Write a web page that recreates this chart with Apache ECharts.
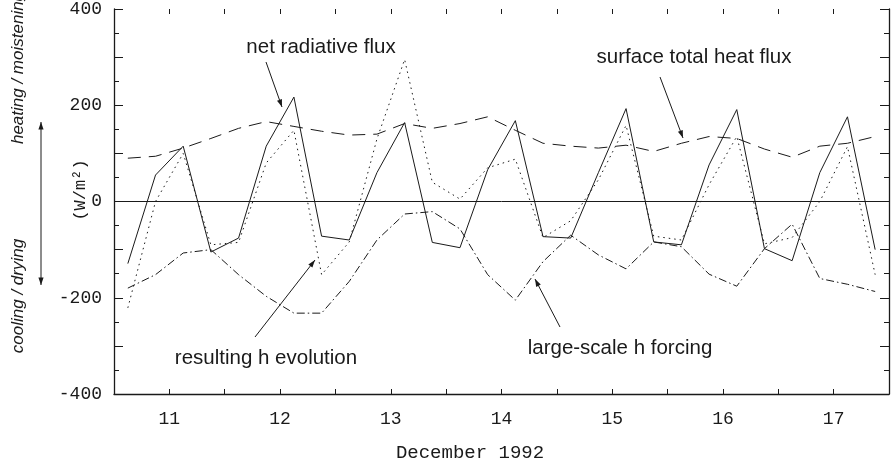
<!DOCTYPE html>
<html><head><meta charset="utf-8">
<script src="https://cdn.jsdelivr.net/npm/echarts@6/dist/echarts.min.js"></script>
<style>html,body{margin:0;padding:0;background:#fff}#c{width:892px;height:467px}</style>
</head><body><div id="c"></div>
<script>
// time (days of December 1992), 6-hourly
const times = [10.625,10.875,11.125,11.375,11.625,11.875,12.125,12.375,12.625,12.875,13.125,13.375,13.625,13.875,14.125,14.375,14.625,14.875,15.125,15.375,15.625,15.875,16.125,16.375,16.625,16.875,17.125,17.375];
const netRadiativeFlux = [-129,55,115,-105,-76,115,217,-72,-80,60,164,-85,-96,66,168,-73,-76,60,193,-84,-90,76,191,-98,-123,60,176,-100];
const resultingHEvolution = [-221,0,100,-90,-85,80,148,-152,-84,130,295,40,5,70,88,-75,-40,45,158,-72,-80,35,135,-88,-75,0,114,-152];
const surfaceTotalHeatFlux = [90,94,111,131,152,166,156,146,138,140,162,152,162,176,148,121,115,111,117,104,121,135,131,109,92,115,121,135];
const largeScaleHForcing = [-180,-152,-107,-100,-152,-197,-232,-232,-166,-80,-26,-21,-57,-152,-205,-125,-70,-111,-140,-84,-94,-151,-176,-98,-47,-160,-172,-187];
const yTickLabels = {"400":"400","200":"200","0":"0","-200":"-200","-400":"-400"};
const xTickLabels = {"11":"11","12":"12","13":"13","14":"14","15":"15","16":"16","17":"17"};

const pair = (ys) => times.map((t,i)=>[t, ys[i]]);
const ink = '#1a1a1a';
const mono = 'Liberation Mono';
const sans = 'Liberation Sans';

const chart = echarts.init(document.getElementById('c'), null, {renderer:'canvas'});
function lineSeries(name, data, type, extra){
  return Object.assign({
    name, type:'line', data: pair(data), symbol:'none', animation:false,
    lineStyle:{color:ink, width:1, type:type}
  }, extra||{});
}
const arrowLine = (x1,y1,x2,y2) => ({
  type:'group', children:[
    {type:'line', shape:{x1,y1,x2,y2}, style:{stroke:ink, lineWidth:1}},
    (function(){
      const a=Math.atan2(y2-y1,x2-x1), L=8, w=0.33;
      return {type:'polygon', shape:{points:[[x2,y2],[x2-L*Math.cos(a-w),y2-L*Math.sin(a-w)],[x2-L*Math.cos(a+w),y2-L*Math.sin(a+w)]]}, style:{fill:ink}};
    })()
  ]
});
const annText = (t,x,y) => ({type:'text', x, y, style:{text:t, fill:ink, font:'20.5px "'+sans+'"', textAlign:'center', textVerticalAlign:'middle'}});

chart.setOption({
  animation:false,
  backgroundColor:'#fff',
  grid:{left:114, right:3, top:4, bottom:73, containLabel:false},
  xAxis:[{
    type:'value', min:10.5, max:17.5, interval:0.5, position:'bottom',
    axisLine:{show:true, onZero:false, lineStyle:{color:ink, width:1.3}},
    axisTick:{show:true, inside:true, length:5, lineStyle:{color:ink}},
    axisLabel:{margin:16, color:ink, fontFamily:mono, fontSize:18,
      formatter:(v)=> xTickLabels[String(Math.round(v*2)/2)] || ''},
    splitLine:{show:false}
  },{
    type:'value', min:10.5, max:17.5, interval:0.5, position:'top',
    axisLine:{show:false, onZero:false},
    axisTick:{show:true, inside:true, length:5, lineStyle:{color:ink}},
    axisLabel:{show:false}, splitLine:{show:false}
  }],
  yAxis:[{
    type:'value', min:-400, max:400, interval:100, position:'left',
    axisLine:{show:true, onZero:false, lineStyle:{color:ink, width:1.3}},
    axisTick:{show:true, inside:true, length:9, lineStyle:{color:ink}},
    minorTick:{show:true, splitNumber:2, length:5, lineStyle:{color:ink}},
    axisLabel:{margin:12, color:ink, fontFamily:mono, fontSize:18,
      formatter:(v)=> yTickLabels[String(v)] || ''},
    splitLine:{show:false}
  },{
    type:'value', min:-400, max:400, interval:100, position:'right',
    axisLine:{show:true, onZero:false, lineStyle:{color:ink, width:1.3}},
    axisTick:{show:true, inside:true, length:9, lineStyle:{color:ink}},
    minorTick:{show:true, splitNumber:2, length:5, lineStyle:{color:ink}},
    axisLabel:{show:false}, splitLine:{show:false}
  }],
  series:[
    lineSeries('net radiative flux', netRadiativeFlux, 'solid', {
      markLine:{silent:true, symbol:'none', label:{show:false}, lineStyle:{color:ink, type:'solid', width:1}, data:[{yAxis:0}]}
    }),
    lineSeries('resulting h evolution', resultingHEvolution, [1.5,4]),
    lineSeries('surface total heat flux', surfaceTotalHeatFlux, [13,8]),
    lineSeries('large-scale h forcing', largeScaleHForcing, [8,3,1.5,3])
  ],
  graphic:[
    annText('net radiative flux', 321, 47),
    arrowLine(266,62,282,107),
    annText('surface total heat flux', 694, 57),
    arrowLine(660,77,683,138),
    annText('resulting h evolution', 266, 358),
    arrowLine(255,337,315,260),
    annText('large-scale h forcing', 620, 348),
    arrowLine(560,327,535,279),
    {type:'text', x:470, y:453, style:{text:'December 1992', fill:ink, font:'19px "'+mono+'"', textAlign:'center', textVerticalAlign:'middle'}},
    {type:'text', x:80, y:190, rotation:Math.PI/2, style:{text:'(W/m²)', fill:ink, font:'17px "'+mono+'"', textAlign:'center', textVerticalAlign:'middle'}},
    {type:'text', x:18, y:68, rotation:Math.PI/2, style:{text:'heating / moistening', fill:ink, font:'italic 17px "'+sans+'"', textAlign:'center', textVerticalAlign:'middle'}},
    {type:'text', x:18, y:296, rotation:Math.PI/2, style:{text:'cooling / drying', fill:ink, font:'italic 17px "'+sans+'"', textAlign:'center', textVerticalAlign:'middle'}},
    arrowLine(41,200,41,122),
    arrowLine(41,200,41,285)
  ]
});
</script></body></html>
